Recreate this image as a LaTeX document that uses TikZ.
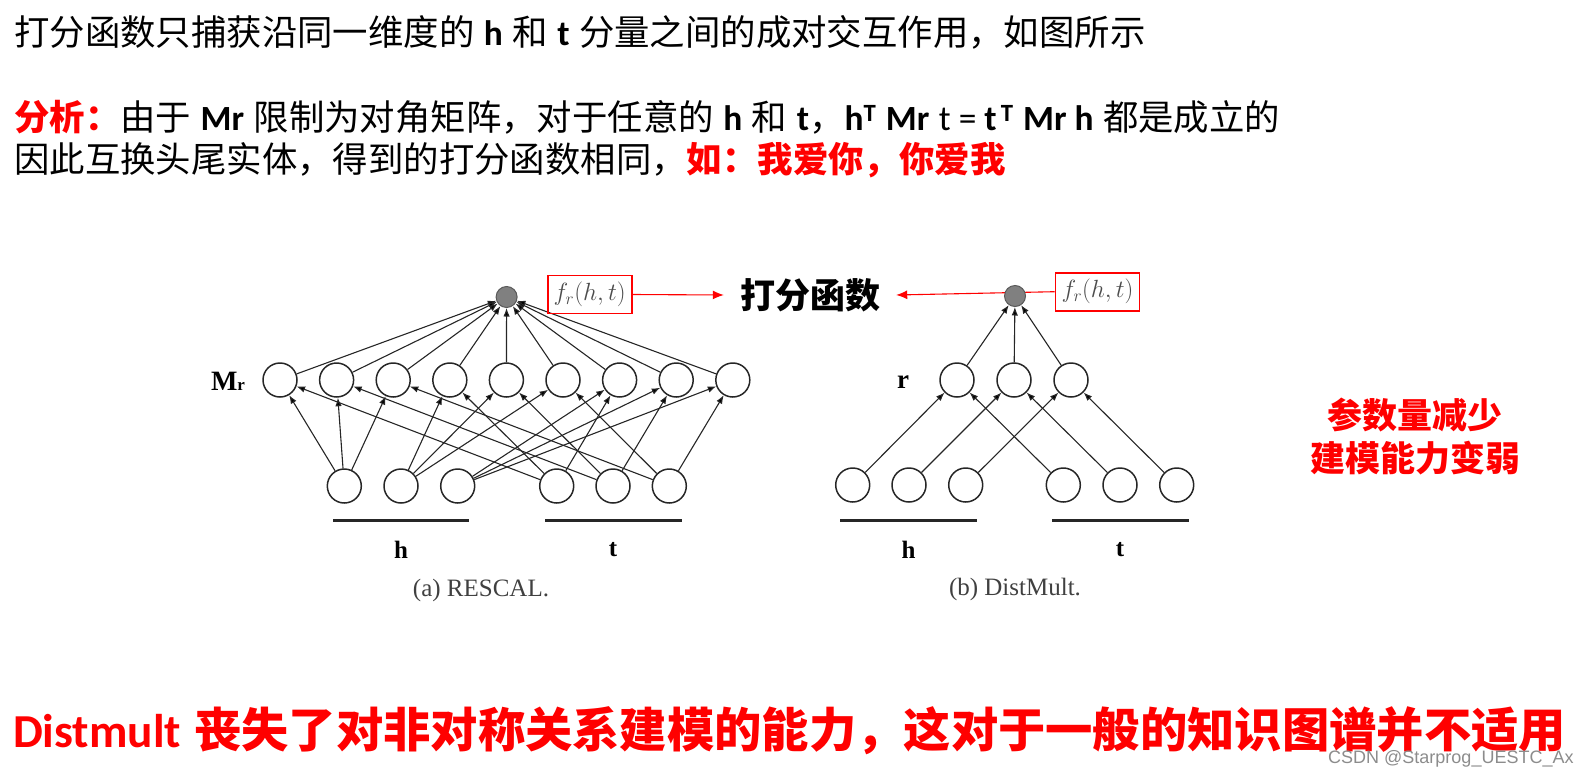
\documentclass[tikz,border=0pt]{standalone}
\usepackage{fontspec}
\setmainfont{Noto Sans CJK SC}[WordSpace=1.2]
\newfontfamily\latfont{Carlito}
\newfontfamily\tms{Liberation Serif}
\newfontfamily\wmfont{Liberation Sans}
\usetikzlibrary{backgrounds,arrows.meta}
\newcommand{\lb}[1]{{\latfont\bfseries #1}}

\begin{document}
\begin{tikzpicture}[x=1pt,y=-1pt,
  neuron/.style={circle,draw=black!85,line width=1.5pt,minimum size=34pt,inner sep=0pt},
  outnode/.style={circle,draw=black!65,fill=black!50,line width=1pt,minimum size=21pt,inner sep=0pt},
  arr/.style={-{Latex[length=8.5pt,width=6.5pt]},line width=1.1pt,draw=black!85},
  redarr/.style={-{Latex[length=11pt,width=9pt]},red,line width=1.1pt},
  bar/.style={line width=3.4pt,black!85},
  lbl/.style={font=\tms\bfseries\fontsize{25}{25}\selectfont},
  caplbl/.style={text=black!75,font=\tms\fontsize{25}{25}\selectfont},
  fnbox/.style={draw=red,line width=1.8pt,minimum width=84pt,minimum height=38pt,inner sep=0pt,text=black!70,font=\fontsize{23.5}{24}\selectfont},
  txt/.style={anchor=west,inner sep=0pt,font=\fontsize{35.4}{36}\selectfont}]
\useasboundingbox (0,0) rectangle (1586,779);

% text above
\node[txt] (l1) at (14,32) {打分函数只捕获沿同一维度的 \lb{h} 和 \lb{t} 分量之间的成对交互作用，如图所示};
\node[txt] (l2) at (14,117) {{\color{red}\bfseries 分析：}由于 \lb{Mr} 限制为对角矩阵，对于任意的 \lb{h} 和 \lb{t}，\lb{h}\textsuperscript{\lb{T}} \lb{Mr} {\latfont t = }\lb{t}\textsuperscript{\lb{\,T}} \lb{Mr h} 都是成立的};
\node[txt] (l3) at (14,160) {因此互换头尾实体，得到的打分函数相同，{\color{red}\bfseries 如：我爱你，你爱我}};

% (a) RESCAL
\node[outnode] (fa) at (506.6,297) {};
\node[neuron] (m1) at (280,380) {};   \node[neuron] (m2) at (336.6,380) {}; \node[neuron] (m3) at (393.2,380) {};
\node[neuron] (m4) at (449.8,380) {}; \node[neuron] (m5) at (506.4,380) {}; \node[neuron] (m6) at (563,380) {};
\node[neuron] (m7) at (619.6,380) {}; \node[neuron] (m8) at (676.2,380) {}; \node[neuron] (m9) at (732.8,380) {};
\node[neuron] (ha1) at (344.3,486) {}; \node[neuron] (ha2) at (401,486) {};   \node[neuron] (ha3) at (457.7,486) {};
\node[neuron] (ta1) at (556.7,486) {}; \node[neuron] (ta2) at (613,486) {};   \node[neuron] (ta3) at (669.3,486) {};
\node[lbl,font=\tms\bfseries\fontsize{28}{28}\selectfont] (mrl) at (228,381) {M{\fontsize{17}{17}\selectfont r}};

\draw[arr] (ha1) edge (m1) edge (m2) edge (m3);
\draw[arr] (ha2) edge (m4) edge (m5) edge (m6);
\draw[arr] (ha3) edge (m7) edge (m8) edge (m9);
\draw[arr] (ta1) edge (m1) edge (m4) edge (m7);
\draw[arr] (ta2) edge (m2) edge (m5) edge (m8);
\draw[arr] (ta3) edge (m3) edge (m6) edge (m9);
\draw[arr] (m1) edge (fa) (m2) edge (fa) (m3) edge (fa) (m4) edge (fa) (m5) edge (fa);
\draw[arr] (m6) edge (fa) (m7) edge (fa) (m8) edge (fa) (m9) edge (fa);

\draw[bar] (333,520.5) -- (469,520.5);
\draw[bar] (545,520.5) -- (682,520.5);
\node[lbl] (hla) at (401,550) {h};
\node[lbl] (tla) at (613,550) {t};
\node[caplbl] (capa) at (481,590) {(a) RESCAL.};
\node[fnbox] (fra) at (589.7,294.5) {$f_r(h,t)$};

% (b) DistMult
\node[outnode] (fb) at (1015,296) {};
\node[neuron] (r1) at (957,380) {}; \node[neuron] (r2) at (1014,380) {}; \node[neuron] (r3) at (1071,380) {};
\node[neuron] (hb1) at (852.7,485) {};  \node[neuron] (hb2) at (909,485) {};  \node[neuron] (hb3) at (965.7,485) {};
\node[neuron] (tb1) at (1063.3,485) {}; \node[neuron] (tb2) at (1120,485) {}; \node[neuron] (tb3) at (1176.7,485) {};
\node[lbl,font=\tms\bfseries\fontsize{27}{27}\selectfont] (rl) at (903,382) {r};

\draw[arr] (hb1) edge (r1) (hb2) edge (r2) (hb3) edge (r3);
\draw[arr] (tb1) edge (r1) (tb2) edge (r2) (tb3) edge (r3);
\draw[arr] (r1) edge (fb) (r2) edge (fb) (r3) edge (fb);

\draw[bar] (840,520.5) -- (977,520.5);
\draw[bar] (1052,520.5) -- (1189,520.5);
\node[lbl] (hlb) at (908.5,550) {h};
\node[lbl] (tlb) at (1120,550) {t};
\node[caplbl] (capb) at (1015,589) {(b) DistMult.};
\node[fnbox] (frb) at (1097.5,291.7) {$f_r(h,t)$};

% score label
\node[inner xsep=16pt,inner ysep=0pt,font=\bfseries\fontsize{35}{35}\selectfont] (score) at (810,295) {打分函数};
\begin{scope}[on background layer]
\draw[redarr] (fra.east) -- (score.west);
\draw[redarr] (frb.west) -- (score.east);
\end{scope}

\node[text=red,align=center,font=\bfseries\fontsize{35}{43}\selectfont] (weak) at (1415,436) {参数量减少\\建模能力变弱};

\node[txt,text=red,font=\bfseries\fontsize{47.3}{48}\selectfont] (concl) at (13,731) {\lb{Distmult} 丧失了对非对称关系建模的能力，这对于一般的知识图谱并不适用};
\node[anchor=west,inner sep=0pt,text=black!45,font=\wmfont\fontsize{18}{18}\selectfont] (wm) at (1328,759) {CSDN @Starprog\_UESTC\_Ax};
\end{tikzpicture}
\end{document}
